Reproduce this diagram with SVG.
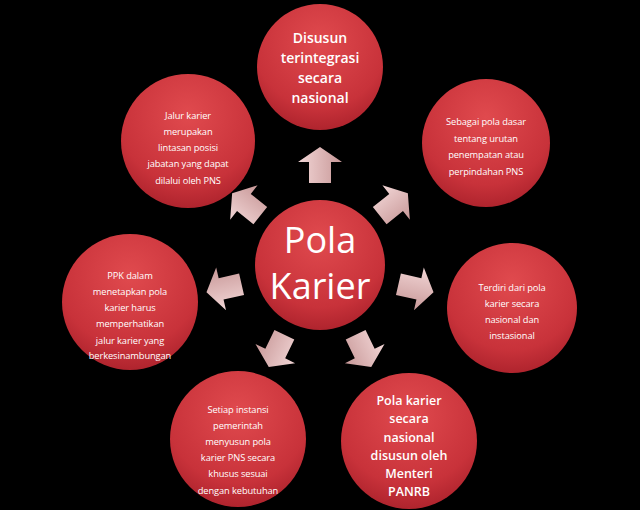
<svg xmlns="http://www.w3.org/2000/svg" width="640" height="510" viewBox="0 0 640 510">
<defs>
<radialGradient id="rg" cx="0.5" cy="0.3" r="0.75">
<stop offset="0" stop-color="#e04a4e"/><stop offset="0.7" stop-color="#c8323a"/><stop offset="1" stop-color="#a8202a"/>
</radialGradient>
<linearGradient id="ag" x1="0" y1="0" x2="0" y2="1">
<stop offset="0" stop-color="#f2d6d6"/><stop offset="1" stop-color="#c89898"/>
</linearGradient>
<path id="arr" d="M-17,-11 L4,-11 L4,-22 L19,0 L4,22 L4,11 L-17,11 Z"/>
</defs>
<style>
circle{fill:url(#rg)}
text{fill:#fff;font-family:"Open Sans","Liberation Sans",sans-serif;text-anchor:middle}
.s{font-size:9.3px;letter-spacing:-0.1px}
.b{font-size:14px;font-weight:600}
.m{font-size:12.5px;font-weight:600}
.c{font-size:36px}
.arrow use{fill:url(#ag)}
</style>
<rect width="640" height="510" fill="#000"/>
<g id="connectors" class="arrow">
<use href="#arr" transform="translate(320,166) rotate(-90)"/>
<use href="#arr" transform="translate(393,205) rotate(-38.6)"/>
<use href="#arr" transform="translate(415,288) rotate(12.9)"/>
<use href="#arr" transform="translate(363,350) rotate(64.3)"/>
<use href="#arr" transform="translate(277,350) rotate(115.7)"/>
<use href="#arr" transform="translate(225,288) rotate(167.1)"/>
<use href="#arr" transform="translate(247,205) rotate(218.6)"/>
</g>
<g id="center"><circle cx="320" cy="265" r="65"/>
<text class="c" x="320" y="253">Pola</text><text class="c" x="320" y="299">Karier</text></g>
<g id="n1"><circle cx="320" cy="67" r="63"/>
<text class="b" x="320" y="43">Disusun</text><text class="b" x="320" y="63">terintegrasi</text><text class="b" x="320" y="83">secara</text><text class="b" x="320" y="103">nasional</text></g>
<g id="n2"><circle cx="486" cy="143" r="64"/>
<text class="s" x="486" y="125">Sebagai pola dasar</text><text class="s" x="486" y="142">tentang urutan</text><text class="s" x="486" y="158">penempatan atau</text><text class="s" x="486" y="175">perpindahan PNS</text></g>
<g id="n3"><circle cx="512" cy="308" r="65"/>
<text class="s" x="512" y="291">Terdiri dari pola</text><text class="s" x="512" y="307">karier secara</text><text class="s" x="512" y="323">nasional dan</text><text class="s" x="512" y="339">instasional</text></g>
<g id="n4"><circle cx="409" cy="441" r="68"/>
<text class="m" x="409" y="405">Pola karier</text><text class="m" x="409" y="423">secara</text><text class="m" x="409" y="442">nasional</text><text class="m" x="409" y="460">disusun oleh</text><text class="m" x="409" y="478">Menteri</text><text class="m" x="409" y="496">PANRB</text></g>
<g id="n5"><circle cx="238" cy="439" r="68"/>
<text class="s" x="238" y="413">Setiap instansi</text><text class="s" x="238" y="429">pemerintah</text><text class="s" x="238" y="445">menyusun pola</text><text class="s" x="238" y="461">karier PNS secara</text><text class="s" x="238" y="477">khusus sesuai</text><text class="s" x="238" y="494">dengan kebutuhan</text></g>
<g id="n6"><circle cx="130" cy="302" r="68"/>
<text class="s" x="130" y="279">PPK dalam</text><text class="s" x="130" y="295">menetapkan pola</text><text class="s" x="130" y="311">karier harus</text><text class="s" x="130" y="327">memperhatikan</text><text class="s" x="130" y="344">jalur karier yang</text><text class="s" x="130" y="359">berkesinambungan</text></g>
<g id="n7"><circle cx="188" cy="141" r="67"/>
<text class="s" x="188" y="119">Jalur karier</text><text class="s" x="188" y="135">merupakan</text><text class="s" x="188" y="151">lintasan posisi</text><text class="s" x="188" y="167">jabatan yang dapat</text><text class="s" x="188" y="184">dilalui oleh PNS</text></g>
</svg>
